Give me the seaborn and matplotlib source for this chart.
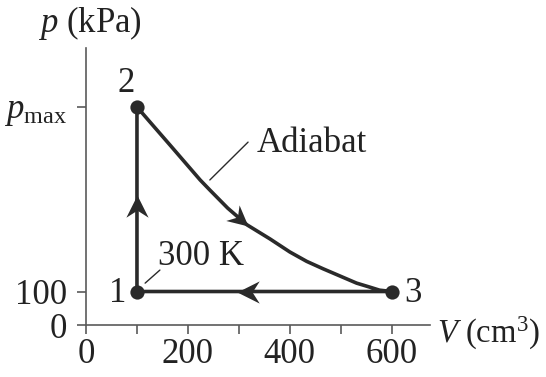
import numpy as np
import pandas as pd
import matplotlib
matplotlib.use("Agg")
import matplotlib.pyplot as plt
import seaborn as sns
from matplotlib.path import Path
from matplotlib.transforms import Affine2D

# ---------------- data ----------------
# state points (V in cm^3, p in kPa); p_max
state_labels = ["1", "2", "3"]
state_V = [100, 100, 600]
state_p = [100, 651, 100]

# adiabat 2 -> 3
adiabat_V = [100, 125, 165, 224, 243, 278, 316, 361, 400, 433, 465, 531, 557, 576, 600]
adiabat_p = [651, 607, 537, 433, 403, 349, 299, 257, 218, 190, 168, 125, 113, 104, 100]

# arrows: tip position and a point behind it (direction)
arrow_tip_V = [100, 318, 296]
arrow_tip_p = [388, 297, 100]
arrow_back_V = [100, 278, 340]
arrow_back_p = [330, 349, 100]

x_ticks = [0, 100, 200, 300, 400, 500, 600]
x_tick_labels = ["0", "", "200", "", "400", "", "600"]
y_ticks = [0, 100, 651]
y_tick_labels = ["0", "100", r"$p_{\mathrm{max}}$"]

# annotation texts
adiabat_text = "Adiabat"
adiabat_text_pos = (335, 516)
adiabat_leader_V = [243, 318]
adiabat_leader_p = [433, 546]
temp_text = "300 K"
temp_text_pos = (141, 179)
temp_leader_V = [116, 145]
temp_leader_p = [125, 164]
state_label_V = [62, 78, 641]
state_label_p = [93, 721, 94]

# ---------------- style ----------------
sns.set_theme(style="ticks")
plt.rcParams["font.family"] = ["Liberation Serif", "DejaVu Serif"]
plt.rcParams["mathtext.fontset"] = "custom"
plt.rcParams["mathtext.rm"] = "Liberation Serif"
plt.rcParams["mathtext.it"] = "Liberation Serif:italic"
plt.rcParams["mathtext.bf"] = "Liberation Serif:bold"

FS = 25
LINE = "#2a2a2a"
AXC = "#5a5a5a"

fig = plt.figure(figsize=(5.46, 3.77), dpi=100)
ax = fig.add_axes([86 / 546, 52 / 377, 344 / 546, 277 / 377])
ax.set_xlim(0, 675)
ax.set_ylim(0, 827)

# cycle path 1 -> 2 -> adiabat -> 3 -> 1
cyc_V = [state_V[0]] + adiabat_V + [state_V[0]]
cyc_p = [state_p[0]] + adiabat_p + [state_p[0]]
df = pd.DataFrame({"V": cyc_V, "p": cyc_p})
sns.lineplot(data=df, x="V", y="p", sort=False, estimator=None, color=LINE,
             lw=2.6, ax=ax, solid_joinstyle="round", solid_capstyle="round")

pts = pd.DataFrame({"V": state_V, "p": state_p})
sns.scatterplot(data=pts, x="V", y="p", s=105, color=LINE, edgecolor=LINE,
                linewidth=0, ax=ax, zorder=5)

# arrowheads (stealth style)
base = Path([(0, 0), (-1.0, 0.5), (-0.68, 0), (-1.0, -0.5), (0, 0)],
            [Path.MOVETO, Path.LINETO, Path.LINETO, Path.LINETO, Path.CLOSEPOLY])
for tv, tp, bv, bp in zip(arrow_tip_V, arrow_tip_p, arrow_back_V, arrow_back_p):
    t = ax.transData.transform((tv, tp))
    b = ax.transData.transform((bv, bp))
    ang = np.degrees(np.arctan2(t[1] - b[1], t[0] - b[0]))
    mk = Affine2D().rotate_deg(ang).transform_path(base)
    ax.plot([tv], [tp], marker=mk, markersize=32, color=LINE, mec=LINE,
            mew=0, zorder=6, clip_on=False)

# leader lines
ax.plot(adiabat_leader_V, adiabat_leader_p, color=LINE, lw=1.0)
ax.plot(temp_leader_V, temp_leader_p, color=LINE, lw=1.0)

ax.text(*adiabat_text_pos, adiabat_text, fontsize=FS, color="#222222",
        ha="left", va="baseline")
ax.text(*temp_text_pos, temp_text, fontsize=FS, color="#222222",
        ha="left", va="baseline")
for lab, lv, lp in zip(state_labels, state_label_V, state_label_p):
    ax.text(lv, lp, lab, fontsize=FS, color="#222222", ha="center", va="center")

# axes styling
sns.despine(ax=ax)
for s in ["left", "bottom"]:
    ax.spines[s].set_color(AXC)
    ax.spines[s].set_linewidth(1.2)
ax.set_xticks(x_ticks)
ax.set_xticklabels(x_tick_labels)
ax.set_yticks(y_ticks)
ax.set_yticklabels(y_tick_labels)
ax.tick_params(axis="x", direction="out", length=6.5, width=1.2, color=AXC,
               labelsize=FS, pad=3, labelcolor="#222222")
ax.tick_params(axis="y", direction="out", length=6.5, width=1.2, color=AXC,
               labelsize=FS, pad=7, labelcolor="#222222")
ax.set_xlabel("")
ax.set_ylabel("")

fig.text(38 / 546, 345 / 377, r"$p$ (kPa)", fontsize=FS, color="#222222",
         ha="left", va="baseline")
fig.text(437 / 546, 34 / 377, r"$V$ (cm$^3$)", fontsize=23.5, color="#222222",
         ha="left", va="baseline")

fig.savefig("out.png", dpi=100)
